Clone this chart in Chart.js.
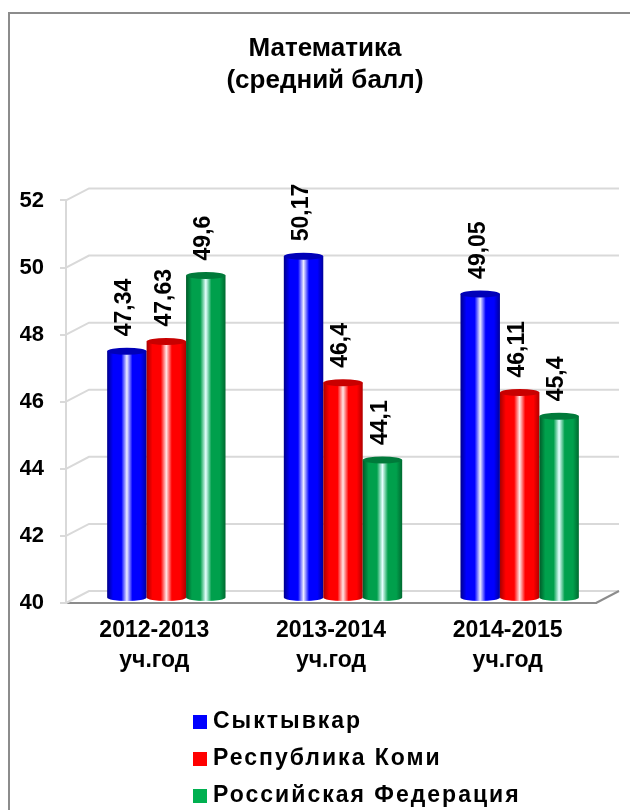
<!DOCTYPE html>
<html>
<head>
<meta charset="utf-8">
<script src="https://cdn.jsdelivr.net/npm/chart.js@4.4.1/dist/chart.umd.min.js"></script>
<style>
  html, body { margin: 0; padding: 0; background: #fff; }
  #wrap { width: 630px; height: 810px; }
</style>
</head>
<body>
<div id="wrap"><canvas id="chart" width="630" height="810"></canvas></div>
<script>
// data
const categories = [['2012-2013', 'уч.год'], ['2013-2014', 'уч.год'], ['2014-2015', 'уч.год']];
const seriesNames = ['Сыктывкар', 'Республика Коми', 'Российская Федерация'];
const syktyvkar = [47.34, 50.17, 49.05];
const komi = [47.63, 46.4, 46.11];
const russia = [49.6, 44.1, 45.4];
const yTicks = [40, 42, 44, 46, 48, 50, 52];

const baseColors = ['#0000FF', '#FF0000', '#00B050'];
// left edge, body, highlight, right edge, top cap
const shades = [
  ['#00008A', '#0000FF', '#ECECFF', '#00009A', '#0000B8'],
  ['#A80000', '#FF0000', '#FFE6E6', '#B00000', '#C80000'],
  ['#005A28', '#00A04C', '#E6FFFF', '#006A30', '#007A3A']
];

const FONT = '"Liberation Sans", Arial, sans-serif';
const DEPTH_X = 23, DEPTH_Y = -12;   // front -> back wall
const MID_X = 12, MID_Y = -5.5;      // front -> bars

const fmt = v => String(v).replace('.', ',');

// 3d walls + grid behind the bars
const gridPlugin = {
  id: 'grid3d',
  beforeDraw(chart) {
    const ctx = chart.ctx;
    ctx.save();
    ctx.strokeStyle = '#8C8C8C';
    ctx.lineWidth = 2;
    ctx.strokeRect(9, 13, 660, 840);
    ctx.restore();
  },
  beforeDatasetsDraw(chart) {
    const { ctx, chartArea: a, scales: { y } } = chart;
    ctx.save();
    ctx.strokeStyle = '#D9D9D9';
    ctx.lineWidth = 2;
    yTicks.forEach(v => {
      const py = y.getPixelForValue(v);
      ctx.beginPath();
      ctx.moveTo(a.left, py);
      ctx.lineTo(a.left + DEPTH_X, py + DEPTH_Y);
      ctx.lineTo(a.right + DEPTH_X, py + DEPTH_Y);
      ctx.stroke();
    });
    // right side of floor
    ctx.strokeStyle = '#8C8C8C';
    ctx.beginPath();
    ctx.moveTo(a.right, a.bottom);
    ctx.lineTo(a.right + DEPTH_X, a.bottom + DEPTH_Y);
    ctx.stroke();
    ctx.restore();
  }
};

// cylinders + rotated value labels
const cylPlugin = {
  id: 'cylinders',
  afterDatasetsDraw(chart) {
    const ctx = chart.ctx;
    const a = chart.chartArea;
    chart.data.datasets.forEach((ds, di) => {
      const meta = chart.getDatasetMeta(di);
      const s = shades[di];
      meta.data.forEach((el, i) => {
        const cx = el.x + MID_X;
        const w = el.width;
        const x0 = cx - w / 2, x1 = cx + w / 2;
        const top = el.y + MID_Y;
        const base = Math.min(el.base, a.bottom) + MID_Y;
        const ry = 3.5;
        const g = ctx.createLinearGradient(x0, 0, x1, 0);
        g.addColorStop(0, s[0]);
        g.addColorStop(0.15, s[1]);
        g.addColorStop(0.36, s[1]);
        g.addColorStop(0.5, s[2]);
        g.addColorStop(0.64, s[1]);
        g.addColorStop(0.85, s[1]);
        g.addColorStop(1, s[3]);
        ctx.save();
        ctx.fillStyle = g;
        ctx.beginPath();
        ctx.moveTo(x0, top);
        ctx.lineTo(x0, base);
        ctx.ellipse(cx, base, w / 2, ry, 0, Math.PI, 0, true);
        ctx.lineTo(x1, top);
        ctx.closePath();
        ctx.fill();
        ctx.fillStyle = s[4];
        ctx.beginPath();
        ctx.ellipse(cx, top, w / 2, ry, 0, 0, Math.PI * 2);
        ctx.fill();
        ctx.restore();

        // value label
        ctx.save();
        ctx.translate(cx - 2, top - 15);
        ctx.rotate(-Math.PI / 2);
        ctx.font = 'bold 23px ' + FONT;
        ctx.fillStyle = '#000';
        ctx.textAlign = 'left';
        ctx.textBaseline = 'middle';
        ctx.fillText(fmt(ds.data[i]), 0, 0);
        ctx.restore();
      });
    });
  },
  afterDraw(chart) {
    // vertical legend at the bottom
    const ctx = chart.ctx;
    ctx.save();
    ctx.font = 'bold 23px ' + FONT;
    ctx.letterSpacing = '2px';
    ctx.textBaseline = 'middle';
    seriesNames.forEach((name, i) => {
      const yy = 722 + i * 37;
      ctx.fillStyle = baseColors[i];
      ctx.fillRect(193, yy - 7, 14, 14);
      ctx.fillStyle = '#000';
      ctx.fillText(name, 213, yy);
    });
    ctx.restore();
  }
};

const seriesValues = [syktyvkar, komi, russia];

new Chart(document.getElementById('chart'), {
  type: 'bar',
  data: {
    labels: categories,
    datasets: seriesValues.map((vals, i) => ({
      label: seriesNames[i],
      data: vals,
      backgroundColor: 'rgba(0,0,0,0)',
      borderWidth: 0,
      categoryPercentage: 0.67,
      barPercentage: 1
    }))
  },
  options: {
    responsive: false,
    animation: false,
    layout: { padding: { left: 20, right: 0, top: 0, bottom: 0 } },
    plugins: {
      legend: { display: false },
      tooltip: { enabled: false },
      title: {
        display: true,
        text: ['Математика', '(средний балл)'],
        color: '#000',
        font: { family: FONT, size: 26, weight: 'bold', lineHeight: 1.22 },
        padding: { top: 33, bottom: 104 }
      }
    },
    scales: {
      x: {
        grid: { display: false, drawTicks: false },
        border: { display: true, color: '#8C8C8C', width: 2 },
        ticks: {
          color: '#000',
          padding: 13,
          maxRotation: 0,
          font: { family: FONT, size: 23, weight: 'bold', lineHeight: 1.3 }
        },
        afterFit(scale) { scale.height = 207; }
      },
      y: {
        min: 40,
        max: 52,
        grid: { display: true, drawOnChartArea: false, color: '#D9D9D9', lineWidth: 2, tickLength: 6 },
        border: { display: true, color: '#D9D9D9', width: 2 },
        ticks: {
          stepSize: 2,
          color: '#000',
          padding: 16,
          font: { family: FONT, size: 22, weight: 'bold' }
        },
        afterFit(scale) { scale.width = 46; }
      },
      // empty right-hand strip for the 3d depth
      yRight: {
        position: 'right',
        grid: { display: false, drawTicks: false },
        border: { display: false },
        ticks: { display: false },
        afterFit(scale) { scale.width = 34; }
      }
    }
  },
  plugins: [gridPlugin, cylPlugin]
});
</script>
</body>
</html>
